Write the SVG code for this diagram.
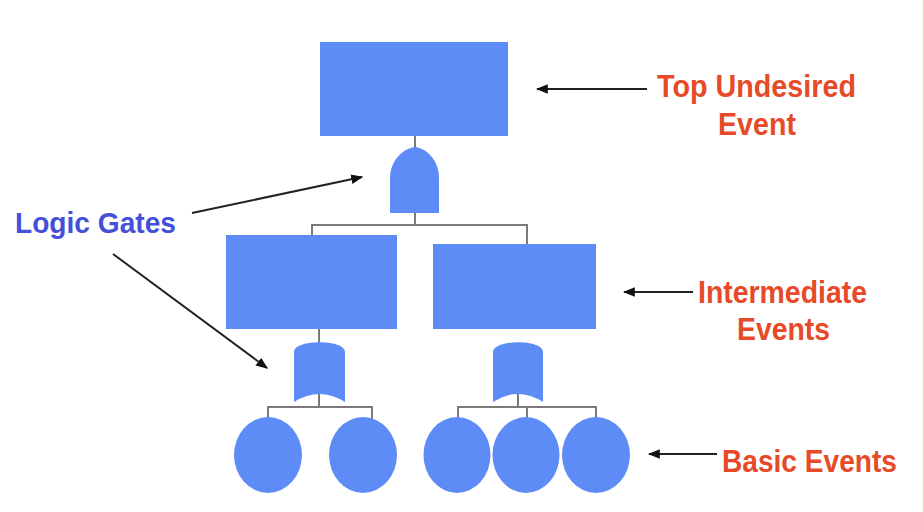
<svg xmlns="http://www.w3.org/2000/svg" width="923" height="512" viewBox="0 0 923 512">
<defs>
<style>
.box{fill:#5E8CF7}
.wire{stroke:#7a7a7a;stroke-width:2;fill:none}
.ptr{stroke:#222;stroke-width:2;fill:none;marker-end:url(#ah)}
.red{font-family:"Liberation Sans",Arial,sans-serif;font-weight:bold;font-size:31px;fill:#E64A28}
.blue{font-family:"Liberation Sans",Arial,sans-serif;font-weight:bold;font-size:30px;fill:#4250DA}
</style>
<marker id="ah" viewBox="0 0 10 10" refX="9" refY="5" markerWidth="6" markerHeight="6" orient="auto" markerUnits="strokeWidth">
<path d="M0,1 L10,5 L0,9 Z" fill="#111"/>
</marker>
</defs>
<rect width="923" height="512" fill="#fff"/>
<g id="connectors">
<line class="wire" x1="415" y1="136" x2="415" y2="152"/>
<polyline class="wire" points="312,235 312,225 527,225 527,244"/>
<line class="wire" x1="415" y1="212" x2="415" y2="225"/>
<line class="wire" x1="319" y1="329" x2="319" y2="350"/>
<polyline class="wire" points="268,420 268,407 372,407 372,420"/>
<line class="wire" x1="319" y1="388" x2="319" y2="407"/>
<polyline class="wire" points="458,420 458,407 596,407 596,420"/>
<line class="wire" x1="527" y1="407" x2="527" y2="420"/>
<line class="wire" x1="518" y1="388" x2="518" y2="407"/>
</g>
<g id="top-event"><rect class="box" x="320" y="42" width="188" height="94"/></g>
<g id="and-gate"><path class="box" d="M390,213 L390,178 C390,160 404,148 415,147 C426,148 439,160 439,178 L439,213 Z"/></g>
<g id="intermediate-left"><rect class="box" x="226" y="235" width="171" height="94"/></g>
<g id="intermediate-right"><rect class="box" x="433" y="244" width="163" height="85"/></g>
<g id="or-gate-left"><path class="box" d="M294,352 C294,339 345,339 345,352 L345,402 Q319.5,386 294,402 Z"/></g>
<g id="or-gate-right"><path class="box" d="M493,352 C493,339 543,339 543,352 L543,402 Q518,386 493,402 Z"/></g>
<g id="basic-1"><ellipse class="box" cx="268" cy="455" rx="34" ry="38"/></g>
<g id="basic-2"><ellipse class="box" cx="363" cy="455" rx="34" ry="38"/></g>
<g id="basic-3"><ellipse class="box" cx="457" cy="455" rx="33.5" ry="38"/></g>
<g id="basic-4"><ellipse class="box" cx="526" cy="455" rx="33.5" ry="38"/></g>
<g id="basic-5"><ellipse class="box" cx="596" cy="455" rx="34" ry="38"/></g>
<g id="labels">
<line class="ptr" x1="647" y1="89" x2="537" y2="89"/>
<text class="red" x="657" y="97" textLength="199" lengthAdjust="spacingAndGlyphs">Top Undesired</text>
<text class="red" x="718" y="135" textLength="78" lengthAdjust="spacingAndGlyphs">Event</text>
<line class="ptr" x1="693" y1="292" x2="624" y2="292"/>
<text class="red" x="698" y="303" textLength="169" lengthAdjust="spacingAndGlyphs">Intermediate</text>
<text class="red" x="737" y="340" textLength="93" lengthAdjust="spacingAndGlyphs">Events</text>
<line class="ptr" x1="717" y1="454" x2="649" y2="454"/>
<text class="red" x="722" y="472" textLength="175" lengthAdjust="spacingAndGlyphs">Basic Events</text>
<text class="blue" x="15" y="233" textLength="161" lengthAdjust="spacingAndGlyphs">Logic Gates</text>
<line class="ptr" x1="192" y1="213" x2="362" y2="177"/>
<line class="ptr" x1="113" y1="254" x2="267" y2="368"/>
</g>
</svg>
